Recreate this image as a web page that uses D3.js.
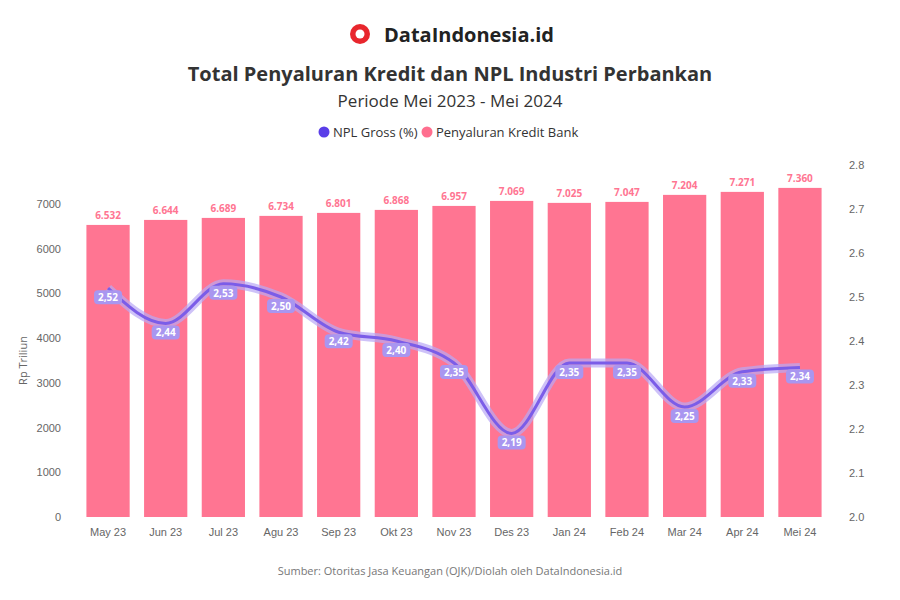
<!DOCTYPE html>
<html><head><meta charset="utf-8">
<script src="https://cdn.jsdelivr.net/npm/d3@7"></script>
<style>body{margin:0;background:#fff;font-family:"Source Sans Pro","Open Sans",sans-serif}</style>
</head><body><svg width="900" height="600"></svg>
<script>
const months = ['May 23','Jun 23','Jul 23','Agu 23','Sep 23','Okt 23','Nov 23','Des 23','Jan 24','Feb 24','Mar 24','Apr 24','Mei 24']
const kredit = [6532, 6644, 6689, 6734, 6801, 6868, 6957, 7069, 7025, 7047, 7204, 7271, 7360]
const npl = [2.52, 2.44, 2.53, 2.50, 2.42, 2.40, 2.35, 2.19, 2.35, 2.35, 2.25, 2.33, 2.34]
const leftTicks = [0, 1000, 2000, 3000, 4000, 5000, 6000, 7000]
const rightTicks = [2, 2.1, 2.2, 2.3, 2.4, 2.5, 2.6, 2.7, 2.8]

const svg = d3.select('svg')
const plotTop = 165, plotBottom = 517, plotLeft = 72, plotRight = 836

const x = d3.scaleBand().domain(months).range([plotLeft, plotRight]).padding(0.25)
const yL = d3.scaleLinear().domain([0, 7000]).range([plotBottom, 204])
const yR = d3.scaleLinear().domain([2, 2.8]).range([plotBottom, plotTop])

// header
const logo = svg.append('g').attr('transform', 'translate(360,34)')
logo.append('circle').attr('r', 10).attr('fill', '#e8262d')
logo.append('circle').attr('r', 4.5).attr('fill', '#fff')
svg.append('text').attr('x', 384).attr('y', 42).attr('font-size', 20).attr('font-weight', 700)
  .attr('fill', '#222').text('DataIndonesia.id')
svg.append('text').attr('x', 450).attr('y', 81).attr('text-anchor', 'middle').attr('font-size', 20)
  .attr('font-weight', 700).attr('fill', '#333').text('Total Penyaluran Kredit dan NPL Industri Perbankan')
svg.append('text').attr('x', 450).attr('y', 107).attr('text-anchor', 'middle').attr('font-size', 17)
  .attr('fill', '#333').text('Periode Mei 2023 - Mei 2024')

// legend
const leg = [{t: 'NPL Gross (%)', c: '#5a3ee8', x: 318}, {t: 'Penyaluran Kredit Bank', c: '#ff6f8f', x: 421}]
leg.forEach(l => {
  svg.append('circle').attr('cx', l.x + 6).attr('cy', 132).attr('r', 5.5).attr('fill', l.c)
  svg.append('text').attr('x', l.x + 15).attr('y', 137).attr('font-size', 13).attr('fill', '#333').text(l.t)
})

// axes
const gl = svg.append('g').attr('transform', `translate(${plotLeft - 8},0)`)
  .call(d3.axisLeft(yL).tickValues(leftTicks).tickSize(0).tickFormat(d3.format('d')))
const gr = svg.append('g').attr('transform', `translate(${plotRight + 10},0)`)
  .call(d3.axisRight(yR).tickValues(rightTicks).tickSize(0))
const gx = svg.append('g').attr('transform', `translate(0,${plotBottom + 8})`)
  .call(d3.axisBottom(x).tickSize(0))
;[gl, gr, gx].forEach(g => {
  g.select('.domain').remove()
  g.selectAll('text').attr('font-size', 11).attr('fill', '#666')
})
svg.append('text').attr('transform', `translate(27,${(plotBottom + 204) / 2}) rotate(-90)`)
  .attr('text-anchor', 'middle').attr('font-size', 11).attr('fill', '#666').text('Rp Triliun')

// bars
svg.selectAll('rect.bar').data(kredit).enter().append('rect').attr('class', 'bar')
  .attr('x', (d, i) => x(months[i])).attr('width', x.bandwidth())
  .attr('y', d => yL(d)).attr('height', d => plotBottom - yL(d))
  .attr('fill', '#ff7592')
svg.selectAll('text.bl').data(kredit).enter().append('text').attr('class', 'bl')
  .attr('x', (d, i) => x(months[i]) + x.bandwidth() / 2).attr('y', d => yL(d) - 6)
  .attr('text-anchor', 'middle').attr('font-size', 10).attr('font-weight', 700).attr('fill', '#ff7592')
  .text(d => d3.format(',')(d).replace(',', '.'))

// line
const cx = i => x(months[i]) + x.bandwidth() / 2
const line = d3.line().x((d, i) => cx(i)).y(d => yR(d)).curve(d3.curveMonotoneX)
svg.append('path').datum(npl).attr('d', line).attr('fill', 'none')
  .attr('stroke', '#b9a8f5').attr('stroke-width', 9).attr('stroke-opacity', 0.7)
svg.append('path').datum(npl).attr('d', line).attr('fill', 'none')
  .attr('stroke', '#7b5de8').attr('stroke-width', 3)
svg.selectAll('rect.pl').data(npl).enter().append('rect').attr('class', 'pl')
  .attr('x', (d, i) => cx(i) - 14).attr('y', d => yR(d) + 2).attr('width', 28).attr('height', 14)
  .attr('rx', 4).attr('fill', '#a996f0')
svg.selectAll('text.pl').data(npl).enter().append('text').attr('class', 'pl')
  .attr('x', (d, i) => cx(i)).attr('y', d => yR(d) + 13).attr('text-anchor', 'middle')
  .attr('font-size', 10).attr('font-weight', 700).attr('fill', '#fff').text(d => d.toFixed(2).replace('.', ','))

svg.append('text').attr('x', 450).attr('y', 575).attr('text-anchor', 'middle').attr('font-size', 11)
  .attr('fill', '#777').text('Sumber: Otoritas Jasa Keuangan (OJK)/Diolah oleh DataIndonesia.id')
</script></body></html>
